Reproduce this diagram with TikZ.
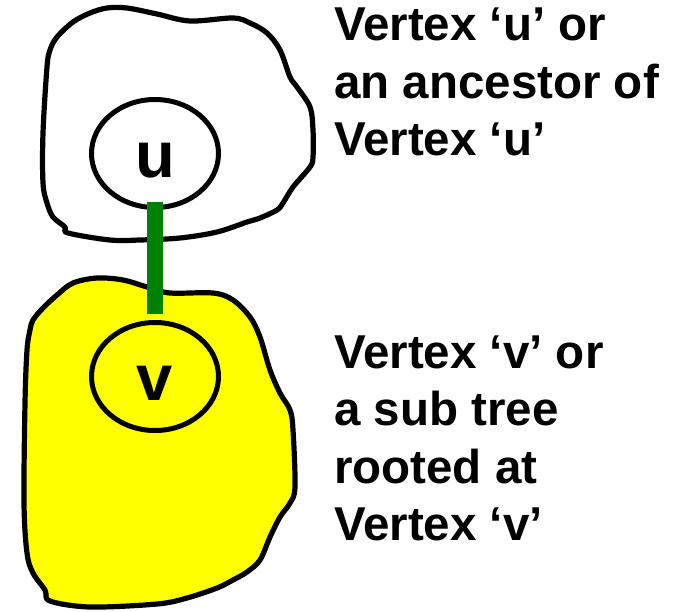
\documentclass[tikz,border=0pt]{standalone}
\usepackage{fontspec}
\setmainfont{Liberation Sans}
\usetikzlibrary{shapes.geometric,calc}
\definecolor{bargreen}{RGB}{0,128,0}
\definecolor{blobyellow}{RGB}{255,255,0}
\begin{document}
\begin{tikzpicture}[x=1pt,y=-1pt,
  blob/.style={draw=black, line width=5.2pt, line join=round},
  vert/.style={ellipse, draw=black, line width=5pt, minimum width=127pt, minimum height=108pt,
    inner sep=0pt, outer sep=0pt, font=\fontsize{65}{65}\selectfont\bfseries,
    text height=47pt, text depth=0pt},
  lbl/.style={anchor=north west, align=left, inner sep=0pt,
    font=\fontsize{47.5}{57.5}\selectfont\bfseries},
  edgebar/.style={draw=bargreen, line width=16pt}]
\useasboundingbox (0,0) rectangle (682,611);
% upper region: u or its ancestors
\draw[blob] plot[smooth cycle, tension=0.55] coordinates {
  (50,50) (57,37) (73,22) (90,13) (107,8) (127,8) (157,14) (190,21) (233,18)
  (250,23) (267,33) (280,50) (290,77) (297,87) (310,107) (313,130) (313,157)
  (310,167) (293,187) (283,203) (277,210) (260,218) (247,222) (217,232)
  (180,238) (140,240) (110,240) (68,233) (65,227) (53,217) (47,203) (43,183)
  (43,133) (47,67)};
\node[vert] (u) at (155,153.5) {u};
% lower region: sub tree rooted at v
\draw[blob, fill=blobyellow] plot[smooth cycle, tension=0.55] coordinates {
  (30,330) (33,320) (43,308) (57,295) (73,283) (97,278) (123,280) (147,287)
  (170,293) (213,293) (233,300) (250,317) (260,337) (270,370) (280,393)
  (290,410) (293,430) (295,487) (290,503) (280,517) (270,537) (260,560)
  (247,572) (233,580) (217,588) (187,598) (157,604) (90,607) (50,601)
  (45,590) (33,573) (27,553) (24,503) (25,403) (27,350)};
\node[vert] (v) at (155,376.5) {v};
% tree edge
\draw[edgebar] ($(u.south)+(0,-6)$) -- ($(v.north)+(0,-9)$);
% labels
\node[lbl] (tu) at (334,8) {Vertex ‘u’ or\\an ancestor of\\Vertex ‘u’};
\node[lbl] (tv) at (334,335.5) {Vertex ‘v’ or\\a sub tree\\rooted at\\Vertex ‘v’};
\end{tikzpicture}
\end{document}
